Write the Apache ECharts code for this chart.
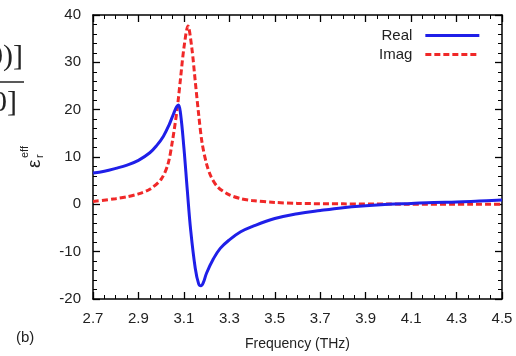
<!DOCTYPE html>
<html>
<head>
<meta charset="utf-8">
<script src="https://cdn.jsdelivr.net/npm/echarts@6/dist/echarts.min.js"></script>
<style>html,body{margin:0;padding:0;background:#fff}#c{width:516px;height:356px}</style>
</head>
<body>
<div id="c"></div>
<script>
var realFreq = [2.70,2.75,2.80,2.85,2.90,2.95,2.98,3.01,3.035,3.055,3.068,3.076,3.085,3.10,3.115,3.13,3.15,3.165,3.175,3.185,3.20,3.23,3.26,3.30,3.35,3.40,3.50,3.60,3.70,3.80,3.90,4.00,4.10,4.20,4.30,4.40,4.50];
var realVals = [6.6,7.0,7.6,8.3,9.3,10.9,12.4,14.4,16.8,19.2,20.6,21.0,19.3,12.0,3.0,-5.5,-13.5,-16.8,-17.2,-16.6,-14.5,-11.5,-9.3,-7.5,-5.8,-4.7,-3.0,-2.0,-1.3,-0.7,-0.3,0.0,0.2,0.4,0.5,0.7,0.9];
var imagFreq = [2.70,2.80,2.85,2.90,2.95,3.00,3.03,3.05,3.07,3.085,3.10,3.118,3.135,3.15,3.165,3.18,3.20,3.22,3.25,3.30,3.35,3.40,3.50,3.60,3.80,4.00,4.50];
var imagVals = [0.6,1.2,1.6,2.2,3.2,5.3,8.5,13.5,20.0,26.5,33.0,37.7,33.0,26.0,19.0,13.0,8.5,5.8,3.6,2.0,1.2,0.8,0.4,0.2,0.1,0.05,0.0];
var xTicks = [2.7,2.9,3.1,3.3,3.5,3.7,3.9,4.1,4.3,4.5];
var yTicks = [-20,-10,0,10,20,30,40];

function pairs(xs, ys){ return xs.map(function(x,i){return [x, ys[i]];}); }

var chart = echarts.init(document.getElementById('c'), null, {renderer:'canvas'});
var F = 'Liberation Sans, Arial, sans-serif';
function ax(extra){
  var base = {
    axisLine:{show:true, onZero:false, lineStyle:{color:'#000', width:1.5}},
    axisTick:{show:true, inside:true, length:7, lineStyle:{color:'#000', width:1.3}},
    splitLine:{show:false}
  };
  return Object.assign(base, extra);
}

chart.setOption({
  animation:false,
  backgroundColor:'#fff',
  grid:{left:93, right:14, top:15, bottom:56},
  xAxis:[
    ax({type:'value', min:xTicks[0], max:xTicks[xTicks.length-1], interval:0.2, position:'bottom',
      minorTick:{show:true, splitNumber:4, length:4, lineStyle:{color:'#000', width:1}},
      axisLabel:{show:true, margin:12, fontSize:15, color:'#222', fontFamily:F, formatter:function(v){return v.toFixed(1);}},
      name:'Frequency (THz)', nameLocation:'middle', nameGap:38, nameTextStyle:{fontSize:14, color:'#222', fontFamily:F}}),
    ax({type:'value', min:xTicks[0], max:xTicks[xTicks.length-1], interval:0.2, position:'top',
      minorTick:{show:true, splitNumber:4, length:4, lineStyle:{color:'#000', width:1}},
      axisLabel:{show:false}})
  ],
  yAxis:[
    ax({type:'value', min:yTicks[0], max:yTicks[yTicks.length-1], interval:10, position:'left',
      minorTick:{show:true, splitNumber:5, length:4, lineStyle:{color:'#000', width:1}},
      axisLabel:{show:true, margin:12, fontSize:15, color:'#222', fontFamily:F}}),
    ax({type:'value', min:yTicks[0], max:yTicks[yTicks.length-1], interval:10, position:'right',
      minorTick:{show:true, splitNumber:5, length:4, lineStyle:{color:'#000', width:1}},
      axisLabel:{show:false}})
  ],
  legend:{
    orient:'vertical', left:374, top:23, align:'right', itemWidth:54, itemHeight:12, itemGap:4,
    itemStyle:{opacity:0},
    lineStyle:{width:3},
    textStyle:{fontSize:15, color:'#222', fontFamily:F, padding:[0,8,0,0]},
    data:['Real','Imag']
  },
  series:[
    {name:'Real', type:'line', smooth:0.4, showSymbol:false, symbol:'none', data:pairs(realFreq, realVals),
      lineStyle:{color:'#1f1fe8', width:3}, itemStyle:{color:'#1f1fe8'}, z:3},
    {name:'Imag', type:'line', smooth:0.3, showSymbol:false, symbol:'none', data:pairs(imagFreq, imagVals),
      lineStyle:{color:'#f02828', width:3, type:[6,3]}, itemStyle:{color:'#f02828'}, z:2}
  ],
  graphic:[
    {type:'group', x:34, y:168, rotation:Math.PI/2, children:[
      {type:'text', x:0, y:-9, style:{text:'ε', fontSize:19, fill:'#222', fontFamily:F}},
      {type:'text', x:10, y:0, style:{text:'r', fontSize:11, fill:'#222', fontFamily:F}},
      {type:'text', x:10, y:-15, style:{text:'eff', fontSize:11, fill:'#222', fontFamily:F}}
    ]},
    {type:'text', left:16, top:330, style:{text:'(b)', fontSize:15, fill:'#222', fontFamily:F}},
    {type:'text', x:-12, y:42, style:{text:'0)]', fontSize:30, fill:'#222', fontFamily:'Liberation Serif, serif'}},
    {type:'line', shape:{x1:0, y1:82, x2:24, y2:82}, style:{stroke:'#222', lineWidth:1.5}},
    {type:'text', x:-8, y:88, style:{text:'0]', fontSize:30, fill:'#222', fontFamily:'Liberation Serif, serif'}}
  ]
});
</script>
</body>
</html>
